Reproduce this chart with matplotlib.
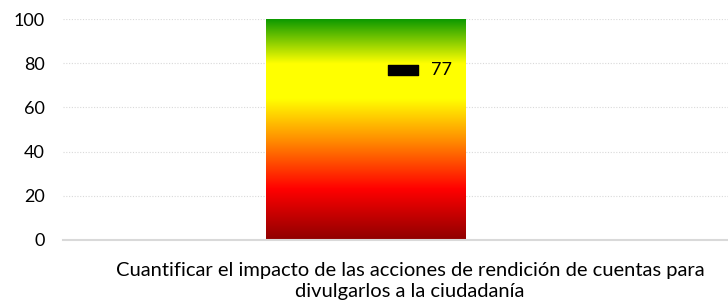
import numpy as np
import matplotlib
matplotlib.use('Agg')
from matplotlib import pyplot as plt
from matplotlib.colors import LinearSegmentedColormap
from matplotlib.path import Path

plt.rcParams['font.family'] = ['Lato', 'DejaVu Sans']

categories = ['Cuantificar el impacto de las acciones de rendición de cuentas para\ndivulgarlos a la ciudadanía']
bar_values = [100]
actual_values = [77]
yticks = [0, 20, 40, 60, 80, 100]

# gradient stops (fraction of the bar height, colour)
grad_stops = [(0.0, '#8f0000'), (0.23, '#ff0000'), (0.45, '#ff8c00'),
              (0.64, '#ffff00'), (0.80, '#ffff00'), (1.0, '#0e9a00')]
cmap = LinearSegmentedColormap.from_list('gauge', grad_stops)

fig = plt.figure(figsize=(7.28, 3.05), dpi=100)
ax = fig.add_axes([63 / 728, 65 / 305, 665 / 728, 221 / 305])

bar_x = 0.0
bar_w = 0.3
ax.set_xlim(-0.456, 0.544)
ax.set_ylim(0, 100)

grad = np.linspace(0, 1, 256).reshape(-1, 1)
ax.imshow(grad, cmap=cmap, origin='lower', aspect='auto',
          extent=(bar_x - bar_w / 2, bar_x + bar_w / 2, 0, bar_values[0]),
          zorder=2)

rect = Path([(-1.5, -0.5), (1.5, -0.5), (1.5, 0.5), (-1.5, 0.5), (-1.5, -0.5)],
            [Path.MOVETO, Path.LINETO, Path.LINETO, Path.LINETO, Path.CLOSEPOLY])
mx = 0.055
ax.plot([mx], actual_values, marker=rect, markersize=21.6, color='black',
        linestyle='none', zorder=3)
for v in actual_values:
    ax.text(mx + 0.043, v, str(v), fontsize=13, va='center', ha='left', zorder=4)

ax.set_yticks(yticks)
ax.grid(axis='y', color='#d9d9d9', linestyle=(0, (1, 1.5)), linewidth=0.8)
ax.set_axisbelow(True)
ax.tick_params(axis='y', length=0, pad=13, labelsize=13)
ax.set_xticks([0.066])
ax.set_xticklabels(categories, fontsize=14.5, linespacing=1.33)
ax.tick_params(axis='x', length=0, pad=15.5)
for s in ['top', 'right', 'left']:
    ax.spines[s].set_visible(False)
ax.spines['bottom'].set_color('#d9d9d9')
ax.spines['bottom'].set_linewidth(1.5)
ax.spines['bottom'].set_zorder(3)

fig.savefig('out.png', dpi=100)
